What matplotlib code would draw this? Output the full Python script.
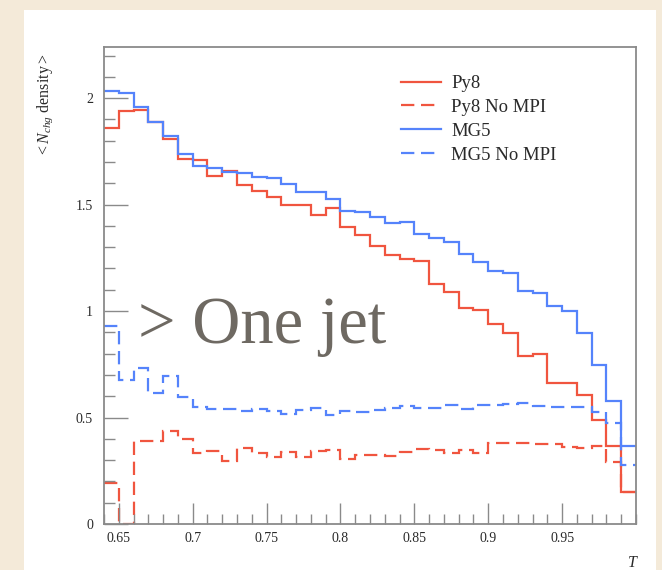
import numpy as np
import matplotlib
matplotlib.use('Agg')
from matplotlib import pyplot as plt
from matplotlib.patches import Rectangle

plt.rcParams['font.family'] = ['Liberation Serif', 'DejaVu Serif']
plt.rcParams['mathtext.fontset'] = 'custom'
plt.rcParams['mathtext.rm'] = 'Liberation Serif'
plt.rcParams['mathtext.it'] = 'Liberation Serif:italic'

# thrust bins, 0.64 -> 1.00 in steps of 0.01
t_lo = 0.64
t_hi = 1.00
n_bins = 36

py8 = [1.858, 1.940, 1.944, 1.889, 1.808, 1.714, 1.709, 1.635, 1.657, 1.592,
       1.563, 1.534, 1.498, 1.498, 1.451, 1.482, 1.393, 1.357, 1.305, 1.263,
       1.244, 1.236, 1.125, 1.091, 1.013, 1.006, 0.937, 0.895, 0.789, 0.797,
       0.662, 0.662, 0.607, 0.488, 0.367, 0.150]
py8_nompi = [0.191, 0.0, 0.390, 0.390, 0.437, 0.399, 0.332, 0.344, 0.297, 0.358,
             0.335, 0.316, 0.340, 0.316, 0.343, 0.347, 0.305, 0.324, 0.324, 0.319,
             0.340, 0.352, 0.347, 0.335, 0.347, 0.335, 0.382, 0.382, 0.382, 0.376,
             0.376, 0.363, 0.355, 0.366, 0.291, 0.150]
mg5 = [2.034, 2.022, 1.959, 1.886, 1.823, 1.737, 1.682, 1.673, 1.653, 1.649,
       1.631, 1.626, 1.595, 1.557, 1.557, 1.528, 1.469, 1.464, 1.444, 1.412,
       1.418, 1.360, 1.341, 1.325, 1.270, 1.230, 1.190, 1.177, 1.092, 1.083,
       1.022, 1.000, 0.895, 0.746, 0.577, 0.366]
mg5_nompi = [0.930, 0.676, 0.731, 0.613, 0.695, 0.598, 0.548, 0.540, 0.540, 0.532,
             0.538, 0.532, 0.515, 0.535, 0.543, 0.512, 0.532, 0.524, 0.535, 0.543,
             0.554, 0.543, 0.546, 0.559, 0.540, 0.559, 0.559, 0.562, 0.567, 0.556,
             0.551, 0.551, 0.551, 0.524, 0.476, 0.277]

x_ticks = [0.65, 0.7, 0.75, 0.8, 0.85, 0.9, 0.95]
x_labels = ['0.65', '0.7', '0.75', '0.8', '0.85', '0.9', '0.95']
y_ticks = [0, 0.5, 1, 1.5, 2]
y_labels = ['0', '0.5', '1', '1.5', '2']

edges = np.linspace(t_lo, t_hi, n_bins + 1)

red = '#f0553f'
blue = '#5583fb'
dash = (0, (6, 3))

fig = plt.figure(figsize=(6.62, 5.70), dpi=100)
fig.patch.set_facecolor('#f4ead9')
# white card behind the plot
fig.patches.append(Rectangle((24 / 662, 0), 632 / 662, 560 / 570,
                             transform=fig.transFigure, facecolor='white',
                             edgecolor='none', zorder=-1))

ax = fig.add_axes([104 / 662, 1 - 524 / 570, 532 / 662, 477 / 570])
ax.set_zorder(2)
ax.set_facecolor('white')

lw = 1.6
ax.stairs(py8, edges, baseline=None, color=red, lw=lw, label='Py8')
ax.stairs(py8_nompi, edges, baseline=None, color=red, lw=lw, linestyle=dash,
          label='Py8 No MPI')
ax.stairs(mg5, edges, baseline=None, color=blue, lw=lw, label='MG5')
ax.stairs(mg5_nompi, edges, baseline=None, color=blue, lw=lw, linestyle=dash,
          label='MG5 No MPI')

ax.set_xlim(t_lo, t_hi)
ax.set_ylim(0, 2.24)

ax.set_xticks(x_ticks)
ax.set_xticklabels(x_labels)
ax.set_xticks(np.arange(0.64, 1.0001, 0.01), minor=True)
ax.set_yticks(y_ticks)
ax.set_yticklabels(y_labels)
ax.set_yticks(np.arange(0, 2.21, 0.1), minor=True)

frame = '#8a8a8a'
for s in ax.spines.values():
    s.set_color(frame)
    s.set_linewidth(1.3)
ax.tick_params(which='both', direction='in', color=frame, width=1.0,
               top=False, right=False, labelsize=10, labelcolor='#2a2a2a')
ax.tick_params(axis='x', which='major', length=15, pad=6)
ax.tick_params(axis='x', which='minor', length=7)
ax.tick_params(axis='y', which='major', length=17, pad=8)
ax.tick_params(axis='y', which='minor', length=8)

leg = ax.legend(loc='upper left', bbox_to_anchor=(0.545, 0.957), frameon=False,
                fontsize=13.5, handlelength=2.1, handletextpad=0.55,
                labelspacing=0.36, borderaxespad=0)
for t in leg.get_texts():
    t.set_color('#2a2a2a')

fig.text(45 / 662, 1 - 105 / 570, r'$<N_{chg}$ density$>$', rotation=90,
         ha='center', va='center', fontsize=11.5, color='#2a2a2a')
fig.text(632 / 662, 1 - 563 / 570, 'T', style='italic', ha='center',
         va='center', fontsize=11.5, color='#2a2a2a')

ax.text((138 - 104) / 532, (524 - 343) / 477, '> One jet', transform=ax.transAxes,
        ha='left', va='baseline', fontsize=48, color='#6e6962', zorder=5)

fig.savefig('out.png', dpi=100, facecolor=fig.get_facecolor())
